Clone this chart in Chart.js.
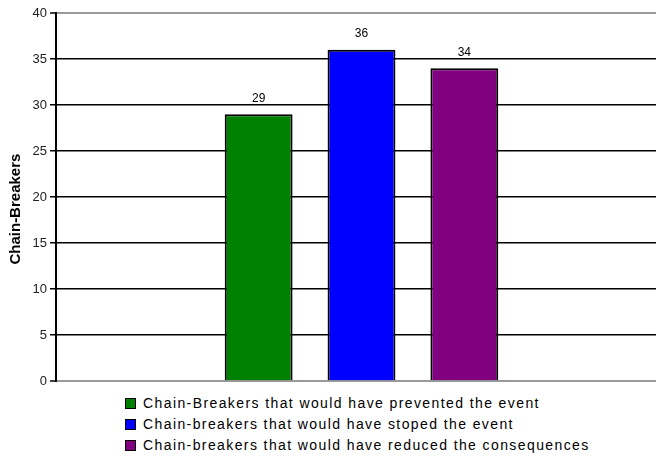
<!DOCTYPE html>
<html>
<head>
<meta charset="utf-8">
<script src="https://cdn.jsdelivr.net/npm/chart.js@4"></script>
<style>
  html, body { margin: 0; padding: 0; background: #fff; overflow: hidden; }
  body { width: 656px; height: 461px; position: relative; font-family: "Liberation Sans", Arial, sans-serif; }
  #wrap { position: absolute; left: 0; top: 0; width: 667px; height: 392px; }
  #legend { position: absolute; left: 125px; top: 393px; margin: 0; padding: 0; list-style: none; }
  #legend li { height: 21px; line-height: 21px; font-size: 14px; letter-spacing: 1.4px; color: #000; white-space: nowrap; }
  #legend span.box { display: inline-block; width: 9px; height: 9px; border: 1.5px solid #000; margin-right: 7px; vertical-align: -1px; }
</style>
</head>
<body>
<div id="wrap"><canvas id="chainChart" width="667" height="392"></canvas></div>
<ul id="legend"></ul>
<script>
const categories = [''];
const seriesNames = [
    'Chain-Breakers that would have prevented the event',
    'Chain-breakers that would have stoped the event',
    'Chain-breakers that would have reduced the consequences'
];
const prevented = [29];
const stopped = [36];
const reduced = [34];
const seriesColors = ['#008000', '#0000ff', '#800080'];
const yTicks = [0, 5, 10, 15, 20, 25, 30, 35, 40];
const yTitle = 'Chain-Breakers';

// value labels above each bar
const barLabels = {
    id: 'barLabels',
    afterDatasetsDraw(chart) {
        const ctx = chart.ctx;
        ctx.save();
        ctx.font = '12px "Liberation Sans", Arial, sans-serif';
        ctx.fillStyle = '#000';
        ctx.textAlign = 'center';
        ctx.textBaseline = 'bottom';
        chart.data.datasets.forEach((ds, i) => {
            chart.getDatasetMeta(i).data.forEach((bar, j) => {
                ctx.fillText(ds.data[j], bar.x, bar.y - 10);
            });
        });
        ctx.restore();
    }
};

// rotated axis title, sits a little below the plot's middle
const axisTitle = {
    id: 'axisTitle',
    afterDraw(chart) {
        const ctx = chart.ctx;
        const area = chart.chartArea;
        ctx.save();
        ctx.translate(16, (area.top + area.bottom) / 2 + 12);
        ctx.rotate(-Math.PI / 2);
        ctx.font = 'bold 15px "Liberation Sans", Arial, sans-serif';
        ctx.fillStyle = '#000';
        ctx.textAlign = 'center';
        ctx.textBaseline = 'middle';
        ctx.fillText(yTitle, 0, 0);
        ctx.restore();
    }
};

const chart = new Chart(document.getElementById('chainChart'), {
    type: 'bar',
    data: {
        labels: categories,
        datasets: [prevented, stopped, reduced].map((d, i) => ({
            label: seriesNames[i],
            data: d,
            backgroundColor: seriesColors[i],
            borderColor: '#000',
            borderWidth: 2,
            categoryPercentage: 0.505,
            barPercentage: 0.66
        }))
    },
    options: {
        responsive: false,
        animation: false,
        layout: { padding: { top: 13, right: 0, bottom: 1, left: 0 } },
        plugins: {
            legend: { display: false },
            tooltip: { enabled: false }
        },
        scales: {
            x: { display: false },
            y: {
                min: 0,
                max: 40,
                afterBuildTicks: s => { s.ticks = yTicks.map(v => ({ value: v })); },
                afterFit: s => { s.width = 56; },
                border: { color: '#000', width: 2 },
                grid: {
                    color: c => (c.tick.value === 0 || c.tick.value === 40) ? '#999' : '#000',
                    lineWidth: c => (c.tick.value === 0 || c.tick.value === 40) ? 2 : 1.5,
                    tickColor: '#000',
                    tickLength: 6,
                    tickWidth: 1.5
                },
                ticks: {
                    color: '#222',
                    padding: 3,
                    font: { family: '"Liberation Sans", Arial, sans-serif', size: 13 }
                }
            }
        }
    },
    plugins: [barLabels, axisTitle]
});

// legend list below the plot
const legendEl = document.getElementById('legend');
chart.data.datasets.forEach(ds => {
    const li = document.createElement('li');
    const box = document.createElement('span');
    box.className = 'box';
    box.style.background = ds.backgroundColor;
    li.appendChild(box);
    li.appendChild(document.createTextNode(ds.label));
    legendEl.appendChild(li);
});
</script>
</body>
</html>
